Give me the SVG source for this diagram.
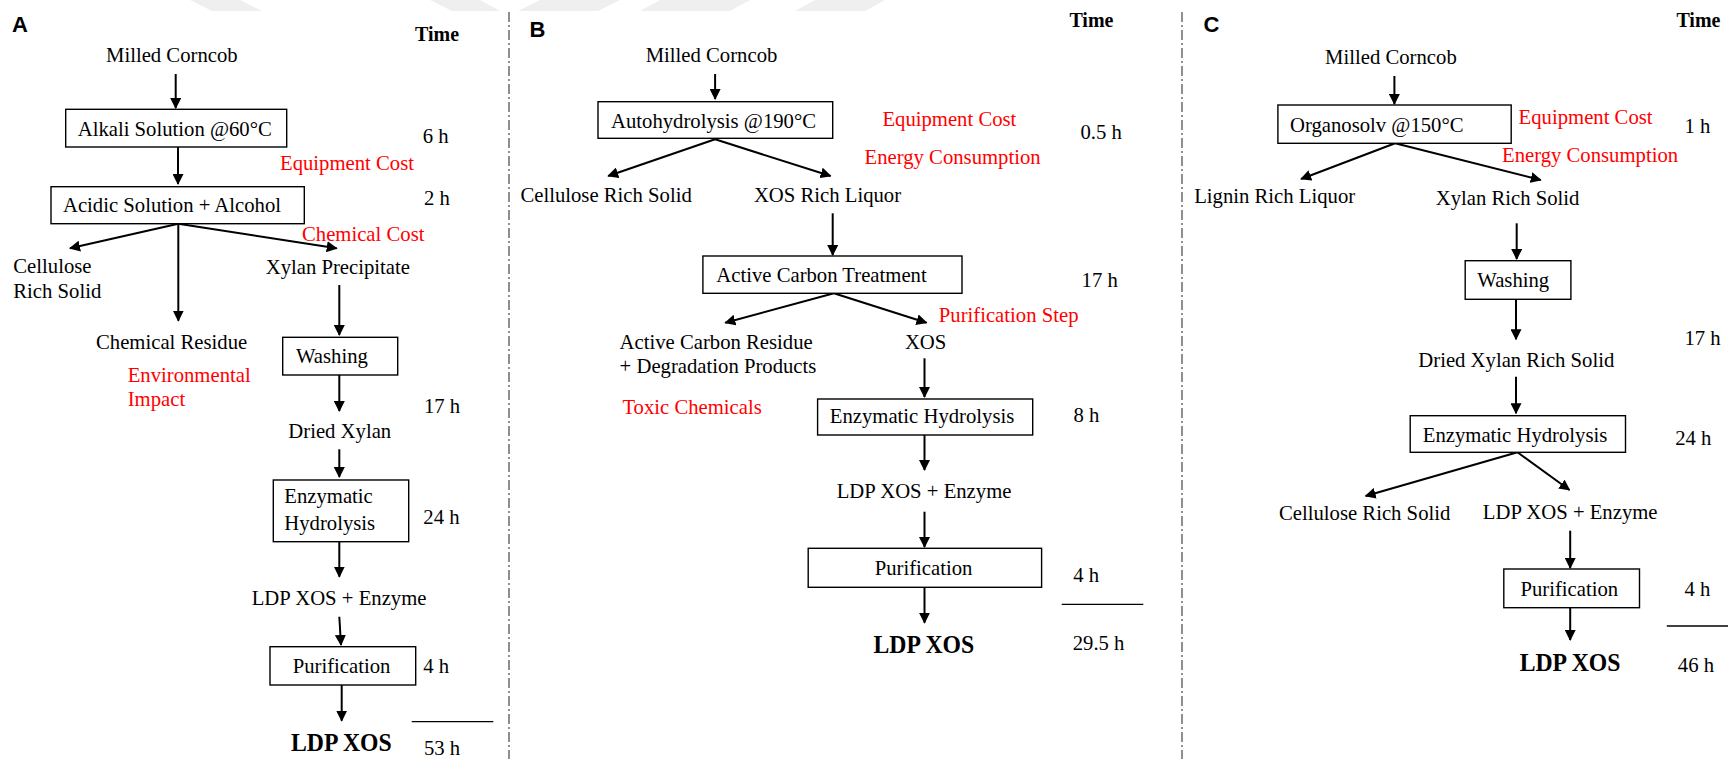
<svg xmlns="http://www.w3.org/2000/svg" width="1728" height="759" viewBox="0 0 1728 759">
<style>
.t{font-family:"Liberation Serif","Times New Roman",serif;font-size:20.7px;fill:#000}
.r{font-family:"Liberation Serif","Times New Roman",serif;font-size:20.7px;fill:#ff0000}
.tb{font-family:"Liberation Serif","Times New Roman",serif;font-size:20px;font-weight:bold;fill:#000}
.big{font-family:"Liberation Serif","Times New Roman",serif;font-size:23.7px;font-weight:bold;fill:#000}
.t,.r,.tb,.big{transform-box:fill-box;transform-origin:0 80%;transform:scaleY(1.06)}
.lbl{font-family:"Liberation Sans",Arial,sans-serif;font-size:22px;font-weight:bold;fill:#000}
.box{fill:#fff;stroke:#000;stroke-width:1.4}
.ar{stroke:#000;stroke-width:2;fill:none;marker-end:url(#ah)}
.div{stroke:#555;stroke-width:1.3;stroke-dasharray:10 3 2 3;fill:none}
.tot{stroke:#000;stroke-width:1.3}
.wm{fill:#efefef}
</style>
<defs>
<marker id="ah" markerUnits="userSpaceOnUse" markerWidth="11" markerHeight="11" refX="10" refY="5.5" orient="auto">
<path d="M0,0 L11,5.5 L0,11 z" fill="#000"/>
</marker>
</defs>
<rect width="1728" height="759" fill="#fff"/>
<g id="watermark">
<polygon class="wm" points="190,0 240,0 262,11 212,11"/>
<polygon class="wm" points="430,0 480,0 500,11 452,11"/>
<polygon class="wm" points="540,0 620,0 598,11 518,11"/>
<polygon class="wm" points="660,0 750,0 730,11 640,11"/>
<polygon class="wm" points="815,0 885,0 865,11 795,11"/>
</g>
<g id="dividers">
<line class="div" x1="509" y1="12" x2="509" y2="759"/>
<line class="div" x1="1182" y1="12" x2="1182" y2="759"/>
</g>
<g id="connectors">
<line class="ar" x1="175.7" y1="74" x2="175.7" y2="108"/>
<line class="ar" x1="178" y1="147" x2="178" y2="184"/>
<line class="ar" x1="178.3" y1="223.7" x2="70" y2="248.3"/>
<line class="ar" x1="178.3" y1="223.7" x2="178.3" y2="320.7"/>
<line class="ar" x1="178.3" y1="223.7" x2="336.7" y2="248.3"/>
<line class="ar" x1="339.3" y1="285" x2="339.3" y2="335"/>
<line class="ar" x1="339.3" y1="375" x2="339.3" y2="411"/>
<line class="ar" x1="339.3" y1="449.3" x2="339.3" y2="477"/>
<line class="ar" x1="339.3" y1="541.7" x2="339.3" y2="576.7"/>
<line class="ar" x1="339.3" y1="616.7" x2="341" y2="645"/>
<line class="ar" x1="341.7" y1="685" x2="341.7" y2="720.7"/>
<line class="ar" x1="715.1" y1="74" x2="715.1" y2="99"/>
<line class="ar" x1="715.1" y1="139.3" x2="608.2" y2="176"/>
<line class="ar" x1="715.1" y1="139.3" x2="830.6" y2="176"/>
<line class="ar" x1="832.7" y1="213.3" x2="832.7" y2="255"/>
<line class="ar" x1="833.9" y1="293.3" x2="725.3" y2="322.7"/>
<line class="ar" x1="833.9" y1="293.3" x2="926.5" y2="322.7"/>
<line class="ar" x1="924.5" y1="358.3" x2="924.5" y2="397"/>
<line class="ar" x1="924.5" y1="435" x2="924.5" y2="470"/>
<line class="ar" x1="924.5" y1="511.7" x2="924.5" y2="547"/>
<line class="ar" x1="924.5" y1="587.3" x2="924.5" y2="622.7"/>
<line class="ar" x1="1394.4" y1="76" x2="1394.4" y2="104"/>
<line class="ar" x1="1395.1" y1="143.3" x2="1301.1" y2="179"/>
<line class="ar" x1="1395.1" y1="143.3" x2="1540.7" y2="180"/>
<line class="ar" x1="1516.7" y1="223.3" x2="1516.7" y2="259"/>
<line class="ar" x1="1516" y1="299.3" x2="1516" y2="339.3"/>
<line class="ar" x1="1516" y1="376.7" x2="1516" y2="413.3"/>
<line class="ar" x1="1517.5" y1="452.3" x2="1365.6" y2="496"/>
<line class="ar" x1="1517.5" y1="452.3" x2="1569.5" y2="490"/>
<line class="ar" x1="1570.2" y1="530.7" x2="1570.2" y2="568"/>
<line class="ar" x1="1570.2" y1="607.7" x2="1570.2" y2="640"/>
</g>
<!-- Panel A -->
<g id="A-label"><text class="lbl" x="12" y="32">A</text></g>
<g id="A-time"><text class="tb" x="415" y="41">Time</text></g>
<g id="A-milled"><text class="t" x="106" y="62">Milled Corncob</text></g>
<g id="A-alkali"><rect class="box" x="65.7" y="109.3" width="221" height="37.7"/><text class="t" x="77.7" y="136">Alkali Solution @60°C</text></g>
<g id="A-6h"><text class="t" x="422.7" y="143">6 h</text></g>
<g id="A-equip"><text class="r" x="280" y="170">Equipment Cost</text></g>
<g id="A-acidic"><rect class="box" x="51" y="186.7" width="253.3" height="37"/><text class="t" x="63" y="212">Acidic Solution + Alcohol</text></g>
<g id="A-2h"><text class="t" x="424" y="205">2 h</text></g>
<g id="A-chemcost"><text class="r" x="302" y="240.7">Chemical Cost</text></g>
<g id="A-cellulose"><text class="t" x="13.3" y="273.3">Cellulose</text><text class="t" x="13.3" y="298.3">Rich Solid</text></g>
<g id="A-xylanp"><text class="t" x="265.7" y="274">Xylan Precipitate</text></g>
<g id="A-chemres"><text class="t" x="96" y="349.3">Chemical Residue</text></g>
<g id="A-washing"><rect class="box" x="282.7" y="337.3" width="115" height="37.7"/><text class="t" x="296" y="362.7">Washing</text></g>
<g id="A-env"><text class="r" x="127.7" y="381.7">Environmental</text><text class="r" x="127.7" y="406">Impact</text></g>
<g id="A-17h"><text class="t" x="424" y="413.3">17 h</text></g>
<g id="A-dried"><text class="t" x="288.3" y="438.3">Dried Xylan</text></g>
<g id="A-enz"><rect class="box" x="273.3" y="480" width="135.4" height="61.7"/><text class="t" x="284.3" y="503.3">Enzymatic</text><text class="t" x="284.3" y="530">Hydrolysis</text></g>
<g id="A-24h"><text class="t" x="423.3" y="524">24 h</text></g>
<g id="A-ldpenz"><text class="t" x="251.7" y="605">LDP XOS + Enzyme</text></g>
<g id="A-pur"><rect class="box" x="270" y="646.7" width="145.7" height="38.3"/><text class="t" x="292.7" y="673.3">Purification</text></g>
<g id="A-4h"><text class="t" x="423.3" y="673.3">4 h</text></g>
<g id="A-total"><line class="tot" x1="411.7" y1="721.7" x2="493.3" y2="721.7"/><text class="t" x="424" y="755">53 h</text></g>
<g id="A-ldp"><text class="big" x="291" y="750.7">LDP XOS</text></g>
<!-- Panel B -->
<g id="B-label"><text class="lbl" x="529.5" y="37.3">B</text></g>
<g id="B-time"><text class="tb" x="1069.4" y="26.7">Time</text></g>
<g id="B-milled"><text class="t" x="645.7" y="62.3">Milled Corncob</text></g>
<g id="B-auto"><rect class="box" x="598" y="101.7" width="234.7" height="36.6"/><text class="t" x="611" y="128.3">Autohydrolysis @190°C</text></g>
<g id="B-equip"><text class="r" x="882.4" y="126">Equipment Cost</text></g>
<g id="B-05h"><text class="t" x="1080.4" y="139.3">0.5 h</text></g>
<g id="B-energy"><text class="r" x="864.5" y="164">Energy Consumption</text></g>
<g id="B-cellulose"><text class="t" x="520.4" y="202.3">Cellulose Rich Solid</text></g>
<g id="B-xosliq"><text class="t" x="753.9" y="202.3">XOS Rich Liquor</text></g>
<g id="B-carbon"><rect class="box" x="702.9" y="256" width="259.1" height="37.3"/><text class="t" x="716.3" y="281.7">Active Carbon Treatment</text></g>
<g id="B-17h"><text class="t" x="1081.6" y="287.3">17 h</text></g>
<g id="B-purstep"><text class="r" x="938.8" y="321.7">Purification Step</text></g>
<g id="B-residue"><text class="t" x="619.6" y="349">Active Carbon Residue</text><text class="t" x="619.6" y="372.7">+ Degradation Products</text></g>
<g id="B-xos"><text class="t" x="904.9" y="349">XOS</text></g>
<g id="B-toxic"><text class="r" x="622.4" y="414.3">Toxic Chemicals</text></g>
<g id="B-enz"><rect class="box" x="817.6" y="399" width="215.1" height="36"/><text class="t" x="829.8" y="422.7">Enzymatic Hydrolysis</text></g>
<g id="B-8h"><text class="t" x="1073.5" y="421.7">8 h</text></g>
<g id="B-ldpenz"><text class="t" x="836.7" y="498.3">LDP XOS + Enzyme</text></g>
<g id="B-pur"><rect class="box" x="808.2" y="548.3" width="233.4" height="39"/><text class="t" x="874.7" y="575">Purification</text></g>
<g id="B-4h"><text class="t" x="1073.3" y="581.7">4 h</text></g>
<g id="B-total"><line class="tot" x1="1061.7" y1="604.3" x2="1143.3" y2="604.3"/><text class="t" x="1072.7" y="650">29.5 h</text></g>
<g id="B-ldp"><text class="big" x="873.5" y="652.7">LDP XOS</text></g>
<!-- Panel C -->
<g id="C-label"><text class="lbl" x="1203.5" y="32.3">C</text></g>
<g id="C-time"><text class="tb" x="1676.4" y="26.7">Time</text></g>
<g id="C-milled"><text class="t" x="1325.1" y="64">Milled Corncob</text></g>
<g id="C-organo"><rect class="box" x="1277.9" y="105" width="233.3" height="38.3"/><text class="t" x="1290" y="132.3">Organosolv @150°C</text></g>
<g id="C-equip"><text class="r" x="1518.6" y="124">Equipment Cost</text></g>
<g id="C-1h"><text class="t" x="1684.5" y="133.3">1 h</text></g>
<g id="C-energy"><text class="r" x="1502" y="162.3">Energy Consumption</text></g>
<g id="C-lignin"><text class="t" x="1194.2" y="203.3">Lignin Rich Liquor</text></g>
<g id="C-xylan"><text class="t" x="1435.7" y="205">Xylan Rich Solid</text></g>
<g id="C-washing"><rect class="box" x="1465.2" y="260.7" width="105.7" height="38.6"/><text class="t" x="1477.3" y="287.3">Washing</text></g>
<g id="C-17h"><text class="t" x="1684.5" y="345">17 h</text></g>
<g id="C-dried"><text class="t" x="1418.3" y="367.3">Dried Xylan Rich Solid</text></g>
<g id="C-enz"><rect class="box" x="1410.2" y="415.7" width="215.3" height="36.6"/><text class="t" x="1422.8" y="441.7">Enzymatic Hydrolysis</text></g>
<g id="C-24h"><text class="t" x="1675.2" y="445">24 h</text></g>
<g id="C-cellulose"><text class="t" x="1279" y="520">Cellulose Rich Solid</text></g>
<g id="C-ldpenz"><text class="t" x="1482.8" y="519">LDP XOS + Enzyme</text></g>
<g id="C-pur"><rect class="box" x="1503.8" y="569" width="135.7" height="38.7"/><text class="t" x="1520.4" y="595.7">Purification</text></g>
<g id="C-4h"><text class="t" x="1684.5" y="595.7">4 h</text></g>
<g id="C-total"><line class="tot" x1="1666.8" y1="626" x2="1728" y2="626"/><text class="t" x="1677.8" y="671.7">46 h</text></g>
<g id="C-ldp"><text class="big" x="1519.7" y="671">LDP XOS</text></g>
</svg>
